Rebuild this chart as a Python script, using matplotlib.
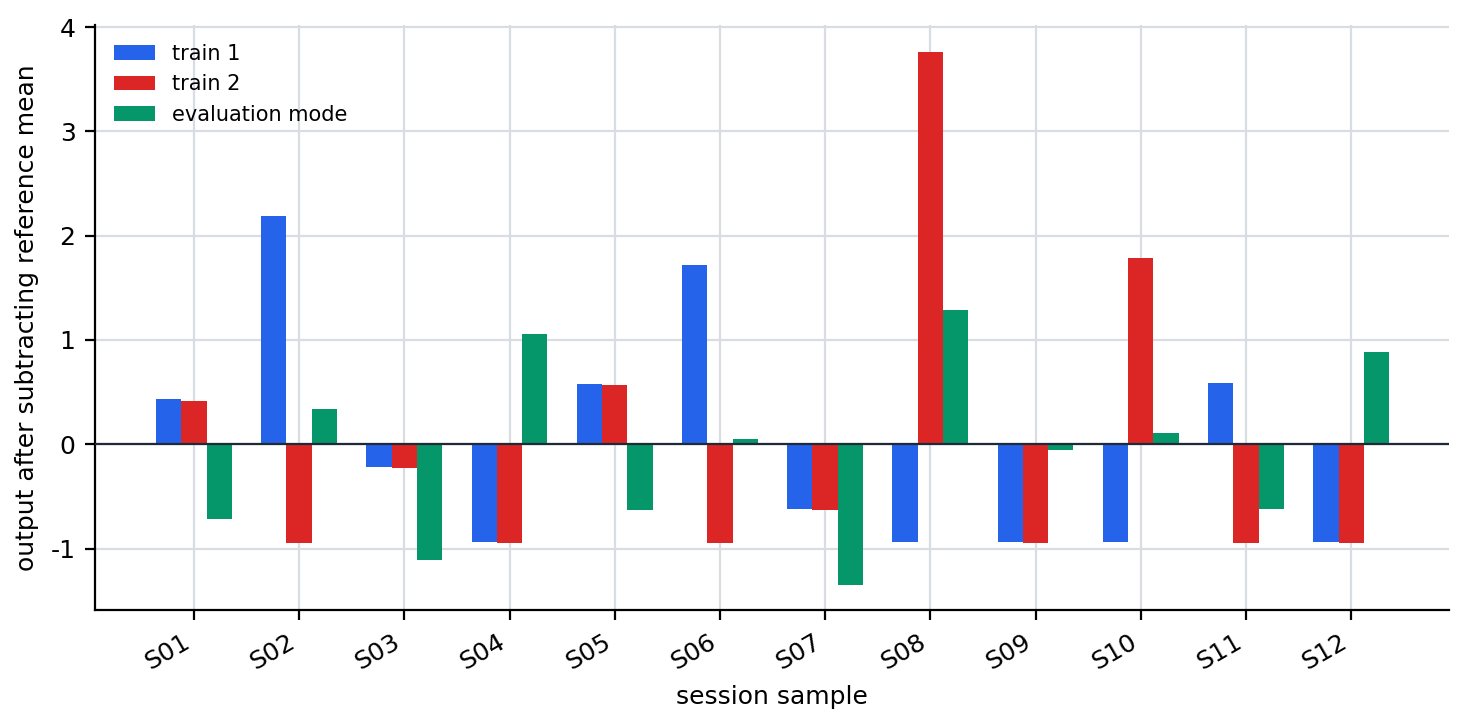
import numpy as np
import matplotlib
matplotlib.use("Agg")
import matplotlib.pyplot as plt

plt.rcParams["axes.unicode_minus"] = False

# values
sessions = ["S01", "S02", "S03", "S04", "S05", "S06",
            "S07", "S08", "S09", "S10", "S11", "S12"]
train_1 = [0.43, 2.19, -0.22, -0.94, 0.58, 1.72, -0.62, -0.94, -0.94, -0.94, 0.59, -0.94]
train_2 = [0.41, -0.95, -0.23, -0.95, 0.57, -0.95, -0.63, 3.76, -0.95, 1.79, -0.95, -0.95]
eval_mode = [-0.72, 0.34, -1.11, 1.06, -0.63, 0.05, -1.35, 1.29, -0.06, 0.11, -0.62, 0.88]

colors = ["#2563eb", "#dc2626", "#059669"]
labels = ["train 1", "train 2", "evaluation mode"]

fig = plt.figure(figsize=(7.33, 3.64), dpi=200)
ax = fig.add_axes([0.0648, 0.162, 0.9236, 0.8037])

x = np.arange(len(sessions))
w = 0.24
for i, (vals, c, lab) in enumerate(zip([train_1, train_2, eval_mode], colors, labels)):
    ax.bar(x + (i - 1) * w, vals, width=w, color=c, label=lab, zorder=3)

ax.axhline(0, color="#1f2937", linewidth=0.8, zorder=4)
ax.grid(True, color="#d9dce2", linewidth=0.8, zorder=0)
ax.set_axisbelow(True)

ax.set_xlim(-0.94, 11.93)
ax.set_ylim(-1.59, 4.02)
ax.set_xticks(x)
ax.set_xticklabels(sessions, rotation=30, ha="right")
ax.set_yticks([-1, 0, 1, 2, 3, 4])
ax.tick_params(labelsize=9, width=0.8, length=3.5)

for s in ["top", "right"]:
    ax.spines[s].set_visible(False)
for s in ["left", "bottom"]:
    ax.spines[s].set_linewidth(0.8)

ax.set_xlabel("session sample", fontsize=9)
ax.set_ylabel("output after subtracting reference mean", fontsize=9)

ax.legend(loc="upper left", frameon=False, fontsize=7.5)

fig.savefig("out.png", dpi=200)
